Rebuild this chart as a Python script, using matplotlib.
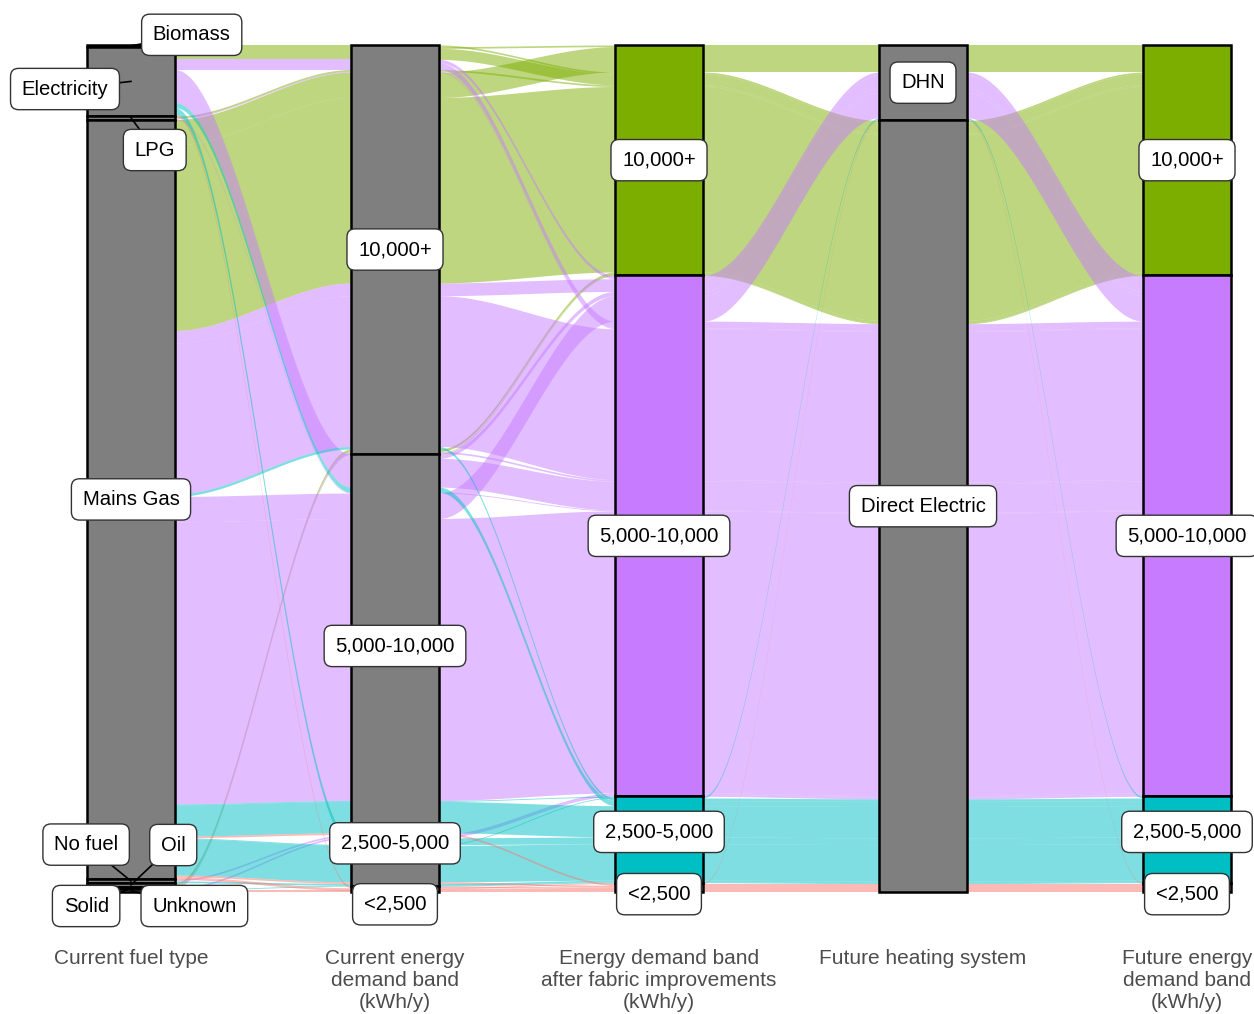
import matplotlib.pyplot as plt
import numpy as np
from matplotlib.patches import Rectangle

plt.rcParams['font.family'] = ['Liberation Sans', 'DejaVu Sans']

# strata levels, top to bottom
fuel_levels = ['Biomass', 'Electricity', 'LPG', 'Mains Gas', 'No fuel', 'Oil', 'Solid', 'Unknown']
band_levels = ['10,000+', '5,000-10,000', '2,500-5,000', '<2,500']
heat_levels = ['DHN', 'Direct Electric']
band_colours = ['#7CAE00', '#C77CFF', '#00BFC4', '#F8766D']
axis_titles = ['Current fuel type',
               'Current energy\ndemand band\n(kWh/y)',
               'Energy demand band\nafter fabric improvements\n(kWh/y)',
               'Future heating system',
               'Future energy\ndemand band\n(kWh/y)']

# groups of households (future band = band after fabric improvements)
flow_fuel = ['Biomass',
             'Electricity', 'Electricity', 'Electricity', 'Electricity', 'Electricity',
             'Electricity', 'Electricity', 'Electricity', 'Electricity',
             'LPG', 'LPG', 'LPG',
             'Mains Gas', 'Mains Gas', 'Mains Gas', 'Mains Gas', 'Mains Gas',
             'Mains Gas', 'Mains Gas', 'Mains Gas', 'Mains Gas', 'Mains Gas',
             'Mains Gas', 'Mains Gas', 'Mains Gas', 'Mains Gas', 'Mains Gas',
             'No fuel', 'No fuel', 'Oil', 'Oil', 'Solid', 'Solid', 'Unknown', 'Unknown']
flow_current = ['10,000+',
                '10,000+', '10,000+', '10,000+', '10,000+', '5,000-10,000',
                '5,000-10,000', '5,000-10,000', '2,500-5,000', '<2,500',
                '10,000+', '10,000+', '5,000-10,000',
                '10,000+', '10,000+', '10,000+', '10,000+', '10,000+',
                '5,000-10,000', '5,000-10,000', '5,000-10,000', '5,000-10,000', '5,000-10,000',
                '2,500-5,000', '2,500-5,000', '2,500-5,000', '<2,500', '<2,500',
                '5,000-10,000', '2,500-5,000', '10,000+', '10,000+', '10,000+', '5,000-10,000',
                '2,500-5,000', '<2,500']
flow_fabric = ['10,000+',
               '10,000+', '10,000+', '5,000-10,000', '5,000-10,000', '5,000-10,000',
               '5,000-10,000', '2,500-5,000', '2,500-5,000', '<2,500',
               '10,000+', '5,000-10,000', '5,000-10,000',
               '10,000+', '10,000+', '5,000-10,000', '5,000-10,000', '2,500-5,000',
               '5,000-10,000', '5,000-10,000', '2,500-5,000', '2,500-5,000', '<2,500',
               '2,500-5,000', '2,500-5,000', '<2,500', '<2,500', '<2,500',
               '5,000-10,000', '2,500-5,000', '10,000+', '5,000-10,000', '10,000+', '5,000-10,000',
               '2,500-5,000', '<2,500']
flow_heating = ['Direct Electric',
                'DHN', 'Direct Electric', 'DHN', 'Direct Electric', 'DHN',
                'Direct Electric', 'Direct Electric', 'Direct Electric', 'Direct Electric',
                'Direct Electric', 'Direct Electric', 'Direct Electric',
                'DHN', 'Direct Electric', 'DHN', 'Direct Electric', 'Direct Electric',
                'DHN', 'Direct Electric', 'DHN', 'Direct Electric', 'Direct Electric',
                'DHN', 'Direct Electric', 'Direct Electric', 'DHN', 'Direct Electric',
                'Direct Electric', 'Direct Electric', 'Direct Electric', 'Direct Electric',
                'Direct Electric', 'Direct Electric', 'Direct Electric', 'Direct Electric']
flow_count = [2,
              2, 13, 4, 8, 5, 34, 6, 8, 2,
              2, 1, 1,
              30, 219, 15, 178, 3,
              30, 333, 1, 37, 2,
              1, 43, 2, 1, 2,
              2, 2, 3, 2, 1, 2, 1, 2]

# label nudges (axis, level) -> (dx, dy) in data units, like ggrepel pushed them
label_nudge = {(0, 'Biomass'): (0.23, 13), (0, 'Electricity'): (-0.25, -9),
               (0, 'LPG'): (0.09, -38), (0, 'No fuel'): (-0.17, 43),
               (0, 'Oil'): (0.16, 47), (0, 'Solid'): (-0.17, -21),
               (0, 'Unknown'): (0.24, -18),
               (1, '2,500-5,000'): (0, 22), (1, '<2,500'): (0, -18),
               (2, '2,500-5,000'): (0, 9), (2, '<2,500'): (0, -8),
               (4, '2,500-5,000'): (0, 9), (4, '<2,500'): (0, -8)}

axis_levels = [fuel_levels, band_levels, band_levels, heat_levels, band_levels]
codes = np.array([[fuel_levels.index(v) for v in flow_fuel],
                  [band_levels.index(v) for v in flow_current],
                  [band_levels.index(v) for v in flow_fabric],
                  [heat_levels.index(v) for v in flow_heating],
                  [band_levels.index(v) for v in flow_fabric]])
counts = np.array(flow_count, dtype=float)
n = len(counts)
total = counts.sum()

# lode order inside strata (zigzag guidance, as in ggalluvial)
zigzag = {0: [1, 2, 3, 4], 1: [0, 2, 3, 4], 2: [3, 1, 4, 0], 3: [4, 2, 1, 0], 4: [3, 2, 1, 0]}
lo = np.zeros((5, n))
hi = np.zeros((5, n))
for a in range(5):
    order = sorted(range(n), key=lambda g: tuple([codes[a, g]] + [codes[b, g] for b in zigzag[a]] + [g]))
    top = total
    for g in order:
        hi[a, g] = top
        lo[a, g] = top - counts[g]
        top -= counts[g]

fig = plt.figure(figsize=(12.54, 10.14), dpi=100)
ax = fig.add_axes([0, 0, 1, 1])
ax.set_xlim(0.5038, 5.2538)
ax.set_ylim(-144.0, 1053.1)
ax.axis('off')

w = 1 / 3
t = np.linspace(0, 1, 80)
s = 3 * t ** 2 - 2 * t ** 3
draw_order = sorted(range(n), key=lambda g: codes[2, g])  # green first, then purple, cyan, salmon
for a in range(4):
    x0 = a + 1 + w / 2
    x1 = a + 2 - w / 2
    xs = x0 + (x1 - x0) * t
    for g in draw_order:
        ytop = hi[a, g] + (hi[a + 1, g] - hi[a, g]) * s
        ybot = lo[a, g] + (lo[a + 1, g] - lo[a, g]) * s
        ax.fill_between(xs, ybot, ytop, color=band_colours[codes[2, g]], alpha=0.5, lw=0, zorder=1)

# strata and labels
box = dict(boxstyle='round,pad=0.55,rounding_size=0.4', fc='white', ec='#333333', lw=1.0)
for a in range(5):
    for k, lev in enumerate(axis_levels[a]):
        sel = codes[a] == k
        if not sel.any():
            continue
        y0 = lo[a, sel].min()
        y1 = hi[a, sel].max()
        fc = band_colours[k] if a in (2, 4) else '#7F7F7F'
        ax.add_patch(Rectangle((a + 1 - w / 2, y0), w, y1 - y0, fc=fc, ec='black', lw=1.8, zorder=3))
        yc = (y0 + y1) / 2
        dx, dy = label_nudge.get((a, lev), (0, 0))
        if dx != 0 or abs(dy) > 30:
            ax.plot([a + 1, a + 1 + dx], [yc, yc + dy], color='black', lw=1.2, zorder=4)
        ax.text(a + 1 + dx, yc + dy, lev, ha='center', va='center', fontsize=14.6,
                color='black', bbox=box, zorder=5)

for a, title in enumerate(axis_titles):
    ax.text(a + 1, -67.5, title, ha='center', va='top', fontsize=15, color='#4D4D4D',
            linespacing=1.2)

fig.savefig('out.png', dpi=100)
